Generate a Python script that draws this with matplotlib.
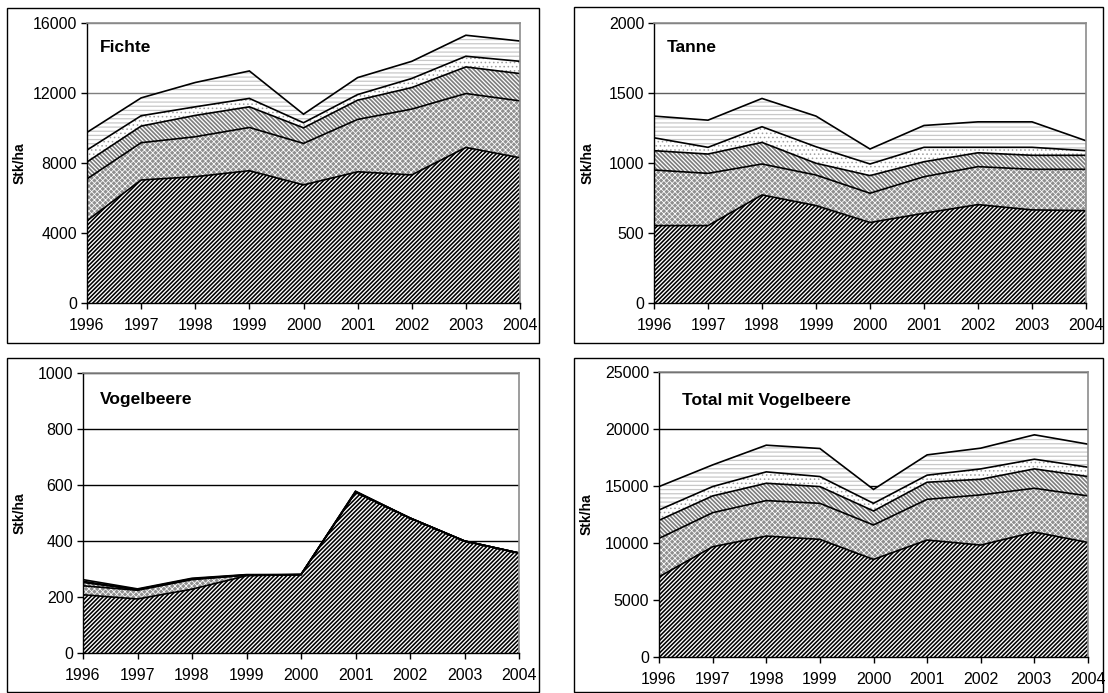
import matplotlib
matplotlib.use("Agg")
import matplotlib.pyplot as plt
from matplotlib.patches import Rectangle
import numpy as np

plt.rcParams['font.family'] = ['Liberation Sans', 'DejaVu Sans']

years = [1996, 1997, 1998, 1999, 2000, 2001, 2002, 2003, 2004]
year_labels = [str(y) for y in years]

# Fichte (layer values, stacked bottom -> top)
fichte_l1 = [4700, 7030, 7220, 7560, 6750, 7500, 7320, 8890, 8300]
fichte_l2 = [2390, 2130, 2280, 2470, 2370, 2990, 3760, 3080, 3250]
fichte_l3 = [970, 950, 1220, 1180, 890, 1100, 1230, 1520, 1560]
fichte_l4 = [680, 590, 490, 480, 290, 320, 520, 610, 700]
fichte_l5 = [1010, 1020, 1390, 1570, 490, 970, 980, 1200, 1160]

# Tanne
tanne_l1 = [553, 553, 772, 696, 575, 641, 703, 665, 660]
tanne_l2 = [397, 373, 221, 218, 209, 261, 271, 290, 295]
tanne_l3 = [138, 138, 154, 84, 126, 107, 99, 100, 100]
tanne_l4 = [92, 48, 112, 118, 83, 103, 39, 57, 33]
tanne_l5 = [155, 194, 202, 219, 107, 156, 182, 182, 71]

# Vogelbeere
vogel_l1 = [208, 193, 228, 276, 280, 574, 482, 400, 357]
vogel_l2 = [32, 31, 34, 2, 0, 0, 0, 0, 0]
vogel_l3 = [12, 2, 2, 0, 0, 2, 0, 0, 0]
vogel_l4 = [4, 1, 1, 1, 0, 0, 0, 0, 0]
vogel_l5 = [6, 2, 2, 1, 0, 2, 0, 0, 0]

# Total mit Vogelbeere
total_l1 = [7030, 9670, 10610, 10320, 8560, 10260, 9820, 10960, 10050]
total_l2 = [3370, 2990, 3110, 3160, 3020, 3570, 4400, 3840, 4080]
total_l3 = [1590, 1470, 1520, 1470, 1230, 1500, 1370, 1700, 1700]
total_l4 = [910, 820, 1000, 880, 670, 620, 910, 850, 820]
total_l5 = [2050, 1900, 2340, 2460, 1220, 1780, 1820, 2140, 2020]

titles = ["Fichte", "Tanne", "Vogelbeere", "Total mit Vogelbeere"]
ylabel = "Stk/ha"

# hatch styles per layer: (face, hatch, hatch colour, hatch lw)
styles = [
    ('white', '////////', 'black', 1.15),
    ('#8f8f8f', 'xxxxxx', 'white', 0.55),
    ('white', '\\' * 8, '#7c7c7c', 1.2),
    ('white', '....', '#a0a0a0', 0.6),
    ('white', '----', '#c8c8c8', 0.9),
]

W, H = 1108, 693
fig = plt.figure(figsize=(W / 100, H / 100), dpi=100)

def fx(px):
    return px / W

def fy(py):
    return 1 - py / H

panels = [
    dict(ax=(87, 520, 23, 303), box=(7, 539, 8, 343), title_xy=(100, 47), ylab_x=20,
         data=[fichte_l1, fichte_l2, fichte_l3, fichte_l4, fichte_l5],
         ymax=16000, ystep=4000, gridc='#7f7f7f'),
    dict(ax=(654, 1086, 23, 303), box=(574, 1103, 7, 343), title_xy=(667, 47), ylab_x=588,
         data=[tanne_l1, tanne_l2, tanne_l3, tanne_l4, tanne_l5],
         ymax=2000, ystep=500, gridc='#5f5f5f'),
    dict(ax=(83, 519, 373, 653), box=(7, 539, 358, 692), title_xy=(100, 400), ylab_x=20,
         data=[vogel_l1, vogel_l2, vogel_l3, vogel_l4, vogel_l5],
         ymax=1000, ystep=200, gridc='black'),
    dict(ax=(659, 1088, 372, 657), box=(574, 1103, 358, 692), title_xy=(682, 401), ylab_x=587,
         data=[total_l1, total_l2, total_l3, total_l4, total_l5],
         ymax=25000, ystep=5000, gridc='black'),
]

for title, p in zip(titles, panels):
    l, r, t, b = p['box']
    fig.patches.append(Rectangle((fx(l), fy(b)), fx(r) - fx(l), fy(t) - fy(b),
                                 transform=fig.transFigure, fill=False,
                                 edgecolor='black', linewidth=1.0, zorder=0))
    al, ar, at, ab = p['ax']
    ax = fig.add_axes([fx(al), fy(ab), fx(ar) - fx(al), fy(at) - fy(ab)])
    ax.set_axisbelow(True)
    ax.yaxis.grid(True, color=p['gridc'], linewidth=1.0)
    bottom = np.zeros(len(years))
    for vals, (face, hatch, hc, hlw) in zip(p['data'], styles):
        top = bottom + np.array(vals, dtype=float)
        with plt.rc_context({'hatch.linewidth': hlw, 'hatch.color': hc}):
            coll = ax.fill_between(years, bottom, top, facecolor=face, hatch=hatch,
                                   edgecolor=hc, linewidth=0)
            if hasattr(coll, 'set_hatch_linewidth'):
                coll.set_hatch_linewidth(hlw)
        ax.plot(years, top, color='black', linewidth=1.2, solid_joinstyle='miter')
        bottom = top
    ax.set_xlim(years[0], years[-1])
    ax.set_ylim(0, p['ymax'])
    ax.set_xticks(years)
    ax.set_xticklabels(year_labels)
    ax.set_yticks(np.arange(0, p['ymax'] + 1, p['ystep']))
    ax.tick_params(axis='both', labelsize=11.5, direction='out', length=4, width=1,
                   color='black', pad=3)
    ax.tick_params(axis='x', pad=7)
    for side in ['top', 'right']:
        ax.spines[side].set_color('#8c8c8c')
        ax.spines[side].set_linewidth(1.2)
    for side in ['left', 'bottom']:
        ax.spines[side].set_color('black')
        ax.spines[side].set_linewidth(1.0)
    tx, ty = p['title_xy']
    fig.text(fx(tx), fy(ty), title, fontsize=12.5, fontweight='bold', ha='left', va='center')
    fig.text(fx(p['ylab_x']), (fy(at) + fy(ab)) / 2, ylabel, fontsize=10,
             fontweight='bold', rotation=90, ha='center', va='center')

fig.savefig('out.png', dpi=100)
